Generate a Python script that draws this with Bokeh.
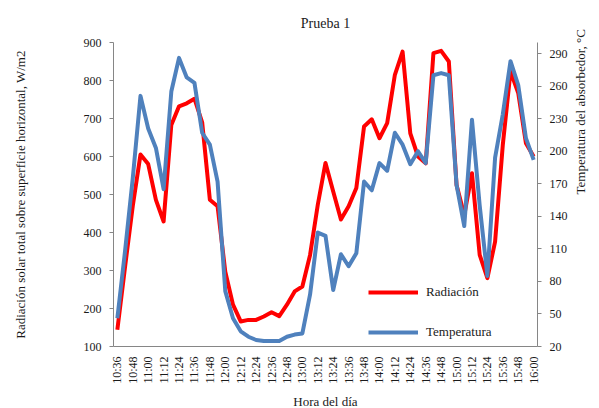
from math import pi
from bokeh.plotting import figure
from bokeh.models import Range1d, LinearAxis, FixedTicker, Legend, LegendItem
from bokeh.embed import file_html
from bokeh.resources import INLINE

times = ["10:36", "10:42", "10:48", "10:54", "11:00", "11:06", "11:12", "11:18", "11:24", "11:30",
         "11:36", "11:42", "11:48", "11:54", "12:00", "12:06", "12:12", "12:18", "12:24", "12:30",
         "12:36", "12:42", "12:48", "12:54", "13:00", "13:06", "13:12", "13:18", "13:24", "13:30",
         "13:36", "13:42", "13:48", "13:54", "14:00", "14:06", "14:12", "14:18", "14:24", "14:30",
         "14:36", "14:42", "14:48", "14:54", "15:00", "15:06", "15:12", "15:18", "15:24", "15:30",
         "15:36", "15:42", "15:48", "15:54", "16:00"]

radiacion = [144, 310, 470, 605, 580, 486, 429, 683, 732, 740,
             752, 690, 486, 469, 297, 210, 166, 170, 170, 179,
             190, 180, 210, 245, 258, 341, 473, 583, 508, 434,
             469, 517, 679, 698, 648, 688, 815, 876, 661, 600,
             582, 872, 878, 850, 525, 446, 556, 341, 280, 376,
             631, 824, 767, 635, 600]

temperatura = [46, 108, 175, 251, 221, 203, 165, 255, 286, 268,
               263, 217, 206, 172, 71, 46, 34, 29, 26, 25,
               25, 25, 29, 31, 32, 68, 125, 122, 72, 105,
               94, 106, 172, 164, 189, 182, 217, 206, 188, 200,
               189, 270, 272, 270, 169, 131, 229, 150, 85, 194,
               234, 283, 261, 212, 192]

left_ticks = [100, 200, 300, 400, 500, 600, 700, 800, 900]
right_ticks = [20, 50, 80, 110, 140, 170, 200, 230, 260, 290]

FONT = "Liberation Serif"
TXT = "#1a1a1a"
AX = "#868686"

xs = list(range(len(times)))

p = figure(frame_width=424, frame_height=304, output_backend="svg", toolbar_location=None,
           x_range=Range1d(-0.5, len(times) - 0.5), y_range=Range1d(100, 900),
           min_border_left=113, min_border_right=62, min_border_top=42, min_border_bottom=62,
           title="Prueba 1")
p.title.align = "center"
p.title.text_font = FONT
p.title.text_font_size = "14px"
p.title.text_font_style = "normal"
p.title.text_color = TXT
p.title.standoff = 23
p.outline_line_color = None
p.xgrid.visible = False
p.ygrid.visible = False
p.background_fill_color = "white"
p.border_fill_color = "white"

p.extra_y_ranges = {"temp": Range1d(20, 300.2)}

r1 = p.line(xs, radiacion, line_color="#FF0000", line_width=4, line_join="round")
r2 = p.line(xs, temperatura, line_color="#4F81BD", line_width=4, line_join="round", y_range_name="temp")


def style_axis(a):
    a.axis_line_color = AX
    a.minor_tick_line_color = None
    a.major_label_text_font = FONT
    a.major_label_text_font_size = "12px"
    a.major_label_text_color = TXT
    a.axis_label_text_font = FONT
    a.axis_label_text_font_size = "13px"
    a.axis_label_text_font_style = "normal"
    a.axis_label_text_color = TXT


# left axis
ya = p.yaxis[0]
style_axis(ya)
ya.ticker = FixedTicker(ticks=left_ticks)
ya.major_tick_line_color = AX
ya.major_tick_out = 4
ya.major_tick_in = 0
ya.major_label_standoff = 8
ya.axis_label = "Radiación solar total sobre superficie horizontal, W/m2"
ya.axis_label_standoff = 53

# right axis
ra = LinearAxis(y_range_name="temp", ticker=FixedTicker(ticks=right_ticks))
style_axis(ra)
ra.major_tick_line_color = AX
ra.major_tick_out = 4
ra.major_tick_in = 0
ra.major_label_standoff = 8
ra.axis_label = "Temperatura del absorbedor, °C"
ra.axis_label_standoff = 10
try:
    ra.axis_label_orientation = pi / 2
except Exception:
    pass
p.add_layout(ra, "right")

# x axis
xa = p.xaxis[0]
style_axis(xa)
shown = list(range(0, len(times), 2))
xa.ticker = FixedTicker(ticks=shown)
xa.major_label_overrides = {i: times[i] for i in shown}
xa.major_label_orientation = pi / 2
xa.major_tick_line_color = None
xa.major_label_standoff = 4
xa.axis_label = "Hora del día"
xa.axis_label_standoff = 7

legend = Legend(items=[LegendItem(label="Radiación", renderers=[r1]),
                       LegendItem(label="Temperatura", renderers=[r2])],
                location=(255, 4), glyph_width=50, glyph_height=20, label_height=20,
                spacing=20, padding=0, margin=0, label_standoff=8,
                border_line_color=None, background_fill_alpha=0,
                label_text_font=FONT, label_text_font_size="13px", label_text_color=TXT)
p.add_layout(legend)

open("out.html", "w").write(file_html(p, INLINE))
